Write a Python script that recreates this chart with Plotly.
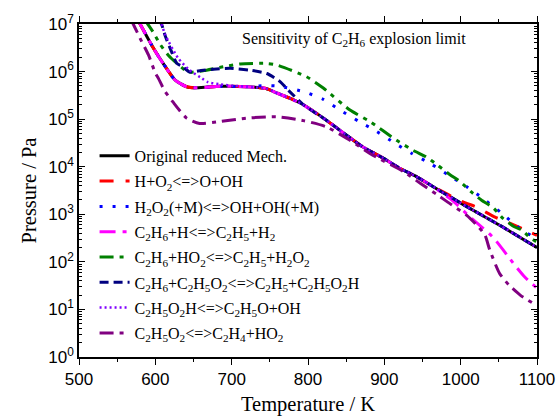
import plotly.graph_objects as go

# ---------------- data ----------------
T_orig = [577, 580, 597, 610, 626, 641, 654, 685, 720, 745, 760, 776, 794, 824, 842, 872, 899, 920, 942, 964, 1008, 1051, 1100]
P_orig = [1.2e7, 1.0e7, 3.2e6, 1.5e6, 6.6e5, 4.8e5, 4.55e5, 4.9e5, 4.8e5, 4.4e5, 3.5e5, 2.75e5, 2.0e5, 9.5e4, 5.8e4, 2.6e4, 1.5e4, 9.3e3, 6.2e3, 3.8e3, 1.45e3, 5.9e2, 2.0e2]

T_r1 = [577, 580, 597, 610, 626, 641, 654, 685, 720, 745, 760, 776, 794, 824, 842, 872, 899, 920, 942, 964, 1003, 1021, 1045, 1061, 1084, 1100]
P_r1 = [1.2e7, 1.0e7, 3.2e6, 1.5e6, 6.6e5, 4.8e5, 4.55e5, 4.9e5, 4.8e5, 4.4e5, 3.5e5, 2.75e5, 2.0e5, 9.5e4, 5.8e4, 2.6e4, 1.5e4, 9.3e3, 6.2e3, 3.8e3, 1.82e3, 1.41e3, 8.7e2, 6.9e2, 4.7e2, 3.6e2]

T_r2 = [577, 580, 597, 610, 626, 641, 654, 685, 720, 745, 763, 796, 820, 842, 866, 890, 914, 936, 960, 985, 1008, 1030, 1054, 1075, 1100]
P_r2 = [1.2e7, 1.0e7, 3.2e6, 1.5e6, 6.6e5, 4.8e5, 4.55e5, 4.9e5, 4.8e5, 5.1e5, 4.9e5, 3.7e5, 2.6e5, 1.55e5, 9.1e4, 5.5e4, 3.1e4, 1.9e4, 1.17e4, 6.5e3, 3.8e3, 2.1e3, 1.05e3, 5.4e2, 3.0e2]

T_r3 = [577, 580, 597, 610, 626, 641, 654, 685, 720, 745, 760, 776, 794, 824, 842, 872, 899, 920, 942, 964, 990, 1010, 1030, 1043, 1061, 1071, 1084, 1100]
P_r3 = [1.2e7, 1.0e7, 3.2e6, 1.5e6, 6.6e5, 4.8e5, 4.55e5, 4.9e5, 4.8e5, 4.4e5, 3.5e5, 2.75e5, 2.0e5, 9.5e4, 5.8e4, 2.6e4, 1.5e4, 9.3e3, 6.2e3, 3.8e3, 1.9e3, 9.5e2, 5.0e2, 3.2e2, 1.38e2, 85, 48, 28]

T_r4 = [586, 590, 597, 606, 617, 628, 643, 667, 689, 711, 746, 759, 798, 820, 855, 881, 916, 938, 955, 969, 986, 999, 1014, 1027, 1043, 1055, 1071, 1080, 1091, 1100]
P_r4 = [1.2e7, 1.0e7, 6.8e6, 3.8e6, 2.2e6, 1.5e6, 9.8e5, 1.07e6, 1.26e6, 1.45e6, 1.48e6, 1.38e6, 7.8e5, 4.5e5, 1.55e5, 8.9e4, 3.6e4, 2.2e4, 1.6e4, 1.1e4, 6.8e3, 4.9e3, 2.95e3, 2.0e3, 1.35e3, 8.3e2, 5.4e2, 4.7e2, 3.2e2, 2.6e2]

T_r5 = [604, 608, 613, 622, 628, 636, 645, 660, 676, 698, 724, 746, 763, 776, 794, 824, 842, 872, 899, 920, 942, 964, 1008, 1051, 1100]
P_r5 = [1.2e7, 1.0e7, 5.6e6, 2.45e6, 1.5e6, 1.26e6, 9.8e5, 1.05e6, 1.12e6, 1.17e6, 1.07e6, 9.1e5, 6.2e5, 3.8e5, 2.0e5, 9.5e4, 5.8e4, 2.6e4, 1.5e4, 9.3e3, 6.2e3, 3.8e3, 1.45e3, 5.9e2, 2.0e2]

T_r6 = [604, 608, 613, 630, 645, 661, 669, 685, 705, 720, 745, 760, 776, 794, 824, 842, 872, 899, 920, 942, 964, 1008, 1051, 1100]
P_r6 = [1.2e7, 1.0e7, 5.9e6, 1.9e6, 1.07e6, 7.2e5, 6.0e5, 5.4e5, 5.0e5, 4.8e5, 4.4e5, 3.5e5, 2.75e5, 2.0e5, 9.5e4, 5.8e4, 2.6e4, 1.5e4, 9.3e3, 6.2e3, 3.8e3, 1.45e3, 5.9e2, 2.0e2]

T_r7 = [568, 571, 580, 591, 600, 604, 612, 623, 641, 658, 685, 720, 759, 794, 824, 855, 881, 925, 947, 969, 983, 1008, 1023, 1032, 1038, 1051, 1063, 1078, 1100]
P_r7 = [1.2e7, 1.0e7, 5.0e6, 2.24e6, 9.3e5, 7.2e5, 4.0e5, 2.3e5, 1.05e5, 8.1e4, 8.9e4, 1.05e5, 1.12e5, 9.3e4, 6.9e4, 3.6e4, 1.9e4, 7.9e3, 4.5e3, 2.6e3, 1.8e3, 9.5e2, 5.5e2, 3.6e2, 1.8e2, 57, 33, 20, 12]

names = [
    "Original reduced Mech.",
    "H+O<sub>2</sub><=>O+OH",
    "H<sub>2</sub>O<sub>2</sub>(+M)<=>OH+OH(+M)",
    "C<sub>2</sub>H<sub>6</sub>+H<=>C<sub>2</sub>H<sub>5</sub>+H<sub>2</sub>",
    "C<sub>2</sub>H<sub>6</sub>+HO<sub>2</sub><=>C<sub>2</sub>H<sub>5</sub>+H<sub>2</sub>O<sub>2</sub>",
    "C<sub>2</sub>H<sub>6</sub>+C<sub>2</sub>H<sub>5</sub>O<sub>2</sub><=>C<sub>2</sub>H<sub>5</sub>+C<sub>2</sub>H<sub>5</sub>O<sub>2</sub>H",
    "C<sub>2</sub>H<sub>5</sub>O<sub>2</sub>H<=>C<sub>2</sub>H<sub>5</sub>O+OH",
    "C<sub>2</sub>H<sub>5</sub>O<sub>2</sub><=>C<sub>2</sub>H<sub>4</sub>+HO<sub>2</sub>",
]
Ts = [T_orig, T_r1, T_r2, T_r3, T_r4, T_r5, T_r6, T_r7]
Ps = [P_orig, P_r1, P_r2, P_r3, P_r4, P_r5, P_r6, P_r7]
colors = ["#000000", "#ff0000", "#0000ff", "#ff00ff", "#008000", "#000080", "#8000ff", "#800080"]
dashes = ["solid", "14px,12px", "3px,10px", "16px,7px,4px,7px", "14px,6px,4px,6px,4px,6px",
          "9px,5px", "2px,3px", "14px,6px,4px,6px"]
widths = [3, 3, 3, 3, 3, 3, 2.5, 3]

ytick_vals = [1, 10, 100, 1e3, 1e4, 1e5, 1e6, 1e7]
ytick_text = ["10<sup>%d</sup>" % i for i in range(8)]

fig = go.Figure()
for i, (n, t, p, c, d, w) in enumerate(zip(names, Ts, Ps, colors, dashes, widths)):
    fig.add_trace(go.Scatter(x=t, y=p, mode="lines", name=n, legendgroup="g%d" % i,
                             line=dict(color=c, dash=d, width=w, shape="spline", smoothing=0.6)))

serif = "Liberation Serif, Times New Roman, serif"
sans = "Liberation Sans, Arial, sans-serif"

fig.update_layout(
    width=559, height=416,
    margin=dict(l=79, r=22, t=24, b=59, autoexpand=False),
    paper_bgcolor="white", plot_bgcolor="white",
    showlegend=True,
    legend=dict(x=0.034, y=0.655, xanchor="left", yanchor="top",
                bgcolor="rgba(0,0,0,0)", borderwidth=0,
                font=dict(family=serif, size=16, color="black"),
                traceorder="grouped", tracegroupgap=1.5),
    xaxis=dict(range=[500, 1100], dtick=100, tick0=500, automargin=False,
               ticks="outside", ticklen=6, tickwidth=1, tickcolor="black",
               minor=dict(dtick=50, ticks="outside", ticklen=3, tickcolor="black"),
               showline=True, linecolor="black", linewidth=1.5, mirror="ticks",
               showgrid=False, zeroline=False,
               tickfont=dict(family=sans, size=17, color="black"),
               title=dict(text="Temperature / K", font=dict(family=serif, size=20.5, color="black"), standoff=8)),
    yaxis=dict(type="log", range=[0, 7], automargin=False,
               tickvals=ytick_vals, ticktext=ytick_text,
               ticks="inside", ticklen=6, tickwidth=1, tickcolor="black",
               minor=dict(dtick="D1", ticks="inside", ticklen=3, tickcolor="black"),
               showline=True, linecolor="black", linewidth=1.5, mirror="ticks",
               showgrid=False, zeroline=False,
               tickfont=dict(family=sans, size=17, color="black"),
               title=dict(text="Pressure / Pa", font=dict(family=serif, size=20.5, color="black"), standoff=6)),
    annotations=[dict(text="Sensitivity of C<sub>2</sub>H<sub>6</sub> explosion limit",
                      x=0.60, y=0.952, xref="paper", yref="paper",
                      xanchor="center", yanchor="middle", showarrow=False,
                      font=dict(family=serif, size=16, color="black"))],
)

fig.write_html("out.html")
